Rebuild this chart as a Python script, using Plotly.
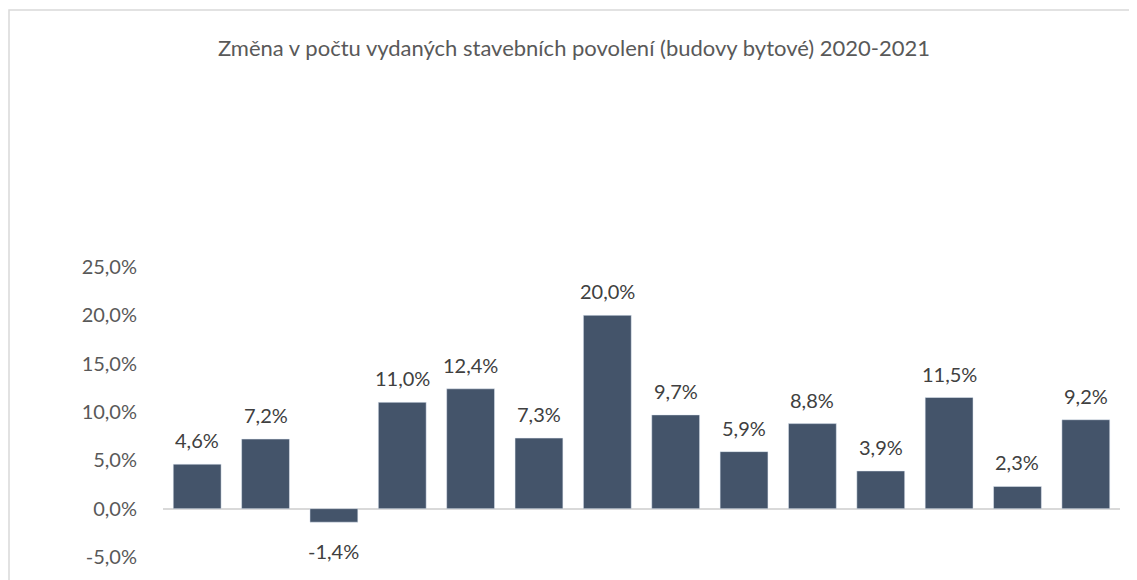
import plotly.graph_objects as go

# Kraje ČR (popisky osy x nejsou ve výřezu vidět)
regions = ['Hl. m. Praha', 'Středočeský', 'Jihočeský', 'Plzeňský', 'Karlovarský',
           'Ústecký', 'Liberecký', 'Královéhradecký', 'Pardubický', 'Vysočina',
           'Jihomoravský', 'Olomoucký', 'Zlínský', 'Moravskoslezský']
change_pct = [4.6, 7.2, -1.4, 11.0, 12.4, 7.3, 20.0, 9.7, 5.9, 8.8, 3.9, 11.5, 2.3, 9.2]
y_ticks = [-5, 0, 5, 10, 15, 20, 25]

TITLE = 'Změna v počtu vydaných stavebních povolení (budovy bytové) 2020-2021'
BAR_COLOR = '#44546A'
TEXT_COLOR = '#595959'
LABEL_COLOR = '#404040'
FONT = 'Lato, Noto Sans, sans-serif'


def pct(v):
    # český formát: desetinná čárka, obyčejný spojovník jako minus
    return f'{v:.1f}%'.replace('.', ',')


fig = go.Figure()
fig.add_trace(go.Bar(x=regions, y=change_pct, marker_color=BAR_COLOR))

# popisky hodnot nad / pod sloupci
for reg, val in zip(regions, change_pct):
    fig.add_annotation(
        x=reg, y=val, text=pct(val),
        showarrow=False, yanchor='middle',
        yshift=24 if val >= 0 else -29,
        font=dict(size=20, color=LABEL_COLOR, family=FONT),
    )

# plocha grafu: x 155..1112, y 259..549 (px v rámci figury)
# rámeček grafu (ořezaný vpravo a dole)
fig.add_shape(type='rect', xref='paper', yref='paper',
              x0=(1 - 155) / 957, x1=1.2, y0=-0.5, y1=1 + (259 - 2) / 290,
              line=dict(color='#D9D9D9', width=1.5), fillcolor='rgba(0,0,0,0)')

fig.update_layout(
    width=1137, height=580,
    margin=dict(l=155, r=25, t=259, b=31),
    paper_bgcolor='white', plot_bgcolor='white',
    bargap=0.3,
    showlegend=False,
    title=dict(text=TITLE, x=566 / 1137, xref='container', xanchor='center',
               y=1 - 40 / 580, yref='container', yanchor='middle',
               font=dict(size=22, color=TEXT_COLOR, family=FONT)),
    font=dict(family=FONT, color=TEXT_COLOR),
)
fig.update_xaxes(showticklabels=False, showgrid=False, showline=False, ticks='')
fig.update_yaxes(range=[-5, 25], tickvals=y_ticks, ticktext=[pct(t) for t in y_ticks],
                 showgrid=False, showline=False, zeroline=True,
                 zerolinecolor='#D9D9D9', zerolinewidth=1.5,
                 ticklabelstandoff=25,
                 tickfont=dict(size=20, color=TEXT_COLOR, family=FONT))

fig.write_html('out.html')
